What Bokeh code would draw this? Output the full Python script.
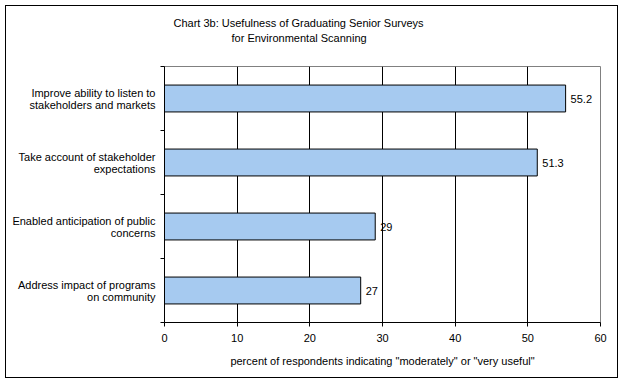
import numpy as np
from bokeh.plotting import figure
from bokeh.models import (ColumnDataSource, LabelSet, LinearAxis, FixedTicker, Grid, Title)
from bokeh.core.properties import value
from bokeh.embed import file_html
from bokeh.resources import INLINE

# ---- data ----
title_lines = ["Chart 3b: Usefulness of Graduating Senior Surveys",
               "for Environmental Scanning"]
categories = ["Improve ability to listen to\nstakeholders and markets",
              "Take account of stakeholder\nexpectations",
              "Enabled anticipation of public\nconcerns",
              "Address impact of programs\non community"]
values = [55.2, 51.3, 29, 27]
x_ticks = [0, 10, 20, 30, 40, 50, 60]
x_label = 'percent of respondents indicating "moderately" or "very useful"'

FONT = "Liberation Sans"
FS = "11px"

n = len(categories)
ypos = n - np.arange(n) - 0.5
src = ColumnDataSource(dict(y=ypos, v=values, cat=categories,
                            vt=[f"{v:g}" for v in values]))

p = figure(width=623, height=383, x_range=(0, 60), y_range=(0, n),
           output_backend="svg", toolbar_location=None, title=None,
           min_border_left=164, min_border_right=23, min_border_top=66,
           min_border_bottom=61, x_axis_location=None, y_axis_location=None)
p.styles = {"outline": "1px solid black", "outline-offset": "-6px"}
p.background_fill_color = "white"
p.border_fill_color = None
p.outline_line_color = "#808080"
p.outline_line_width = 1

# x axis
xa = LinearAxis(ticker=FixedTicker(ticks=x_ticks), axis_label=x_label)
xa.major_tick_out = 4
xa.major_tick_in = 0
xa.minor_tick_line_color = None
xa.axis_line_color = "black"
xa.major_tick_line_color = "black"
xa.major_label_text_font = FONT
xa.major_label_text_font_size = FS
xa.major_label_text_color = "black"
xa.major_label_standoff = 7
xa.axis_label_text_font = FONT
xa.axis_label_text_font_size = FS
xa.axis_label_text_font_style = "normal"
xa.axis_label_text_color = "black"
xa.axis_label_standoff = 10
p.add_layout(xa, "below")

# y axis: labels at category centres, tick marks at category boundaries
ya = LinearAxis(ticker=FixedTicker(ticks=list(ypos), minor_ticks=list(range(n + 1))))
ya.major_label_overrides = {float(y): c for y, c in zip(ypos, categories)}
ya.major_tick_out = 4
ya.major_tick_in = 0
ya.major_tick_line_color = None
ya.minor_tick_out = 4
ya.minor_tick_in = 0
ya.minor_tick_line_color = "black"
ya.axis_line_color = "black"
ya.major_label_text_font = FONT
ya.major_label_text_font_size = FS
ya.major_label_text_color = "black"
ya.major_label_text_line_height = 1.0
ya.major_label_standoff = 5
p.add_layout(ya, "left")

p.xgrid.grid_line_color = None
p.ygrid.grid_line_color = None
p.add_layout(Grid(dimension=0, ticker=xa.ticker, grid_line_color="black",
                  grid_line_width=1))

p.hbar(y="y", right="v", left=0, height=0.42, source=src,
       fill_color="#A6CAF0", line_color="black", line_width=1)

p.add_layout(LabelSet(x="v", y="y", text="vt", source=src, x_offset=5,
                      text_baseline="middle", text_align="left",
                      text_font=value(FONT), text_font_size=value(FS),
                      text_color="black"))

# title: spacer nearest the frame, then line 2, then line 1
for txt, off, so in [(" ", 0, 8), (title_lines[1], 67, 0), (title_lines[0], 9, 1)]:
    p.add_layout(Title(text=txt, align="left", offset=off, standoff=so,
                       vertical_align="middle", text_font=FONT,
                       text_font_size=FS, text_font_style="normal",
                       text_color="black"), "above")

open("out.html", "w").write(file_html(p, INLINE))
